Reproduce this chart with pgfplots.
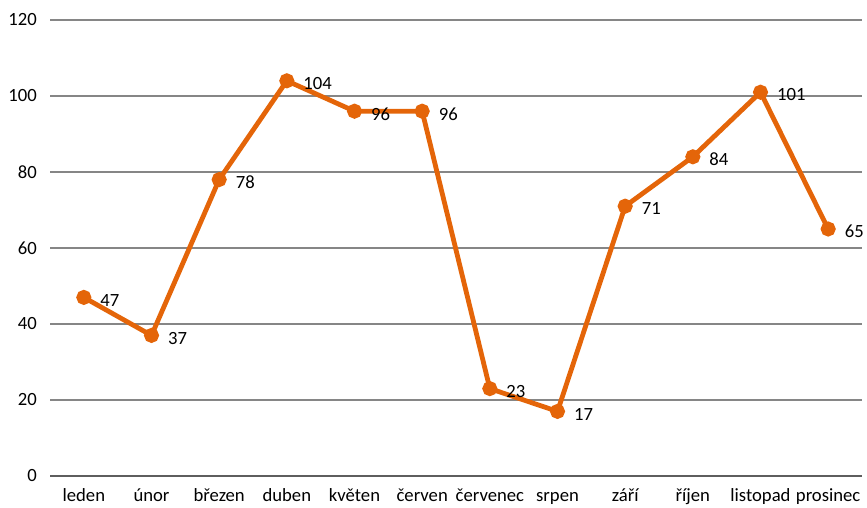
\documentclass[border=0pt]{standalone}
\usepackage{fontspec}
\setmainfont{Carlito}
\usepackage{pgfplots}
\pgfplotsset{compat=1.18}
\definecolor{lineor}{HTML}{E46509}
\definecolor{gridg}{HTML}{868686}
\begin{document}
\fontsize{14}{16}\selectfont
\begin{tikzpicture}
\useasboundingbox (-37.5pt,-23.25pt) rectangle (612.75pt,357pt);
\begin{axis}[
  at={(0,0)}, anchor=south west,
  scale only axis, width=609pt, height=342pt,
  xmin=-0.5, xmax=11.5, ymin=0, ymax=120,
  ytick={0,20,...,120},
  xtick={0,...,11},
  xticklabels={leden,únor,březen,duben,květen,červen,červenec,srpen,září,říjen,listopad,prosinec},
  /pgf/number format/assume math mode=true,
  ticklabel style={font=\fontsize{14}{16}\selectfont, text=black},
  yticklabel style={xshift=-5pt},
  xticklabel style={yshift=-4pt, text height=10pt, text depth=3pt},
  major tick length=0pt,
  axis x line*=bottom, axis y line*=left,
  y axis line style={draw=none},
  x axis line style={draw=gridg!70!black, line width=0.9pt, -},
  ymajorgrids, major grid style={draw=gridg, line width=0.8pt},
  clip=false,
  nodes near coords,
  every node near coord/.append style={font=\fontsize{14}{16}\selectfont, text=black, anchor=west, xshift=6pt, yshift=-2pt},
]
\addplot[color=lineor, line width=3.6pt, mark=*, mark size=3.8pt, mark options={fill=lineor, draw=none}]
coordinates {(0,47) (1,37) (2,78) (3,104) (4,96) (5,96) (6,23) (7,17) (8,71) (9,84) (10,101) (11,65)};
\end{axis}
\end{tikzpicture}
\end{document}
